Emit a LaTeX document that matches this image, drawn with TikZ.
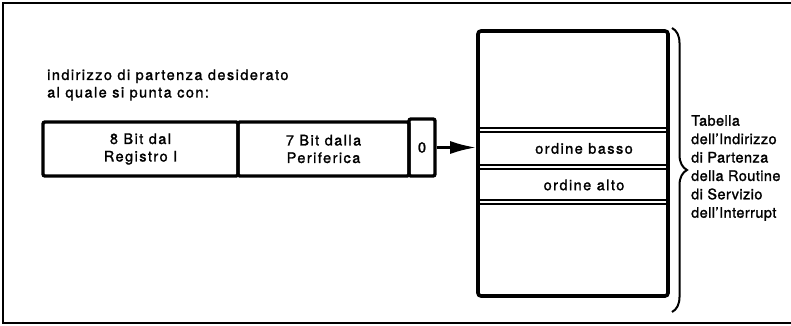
\documentclass[tikz,border=0pt]{standalone}
\usepackage{fontspec}
\setmainfont{TeX Gyre Heros}[LetterSpace=10,FakeBold=1.5]
\usetikzlibrary{arrows.meta,decorations.pathreplacing}
\begin{document}
\begin{tikzpicture}[x=1pt,y=-1pt,
  txt/.style={font=\fontsize{14.5}{17.5}\selectfont, inner sep=0pt},
  cell/.style={draw, line width=3.4pt, rounded corners=2pt, minimum height=54pt,
    inner sep=0pt, align=center, font=\fontsize{14.5}{17.5}\selectfont},
  divider/.style={line width=1.6pt},
  conn/.style={line width=2.8pt, -{Latex[length=26pt,width=13pt]}},
  bracestyle/.style={decorate, decoration={brace, amplitude=15pt}, line width=2pt}
]
\useasboundingbox (0,0) rectangle (791,326);
% outer frame
\draw[line width=2.6pt] (3,3) rectangle (805,323);
% description
\node[txt, anchor=west, align=left] (desc) at (47,85)
  {indirizzo di partenza desiderato\\al quale si punta con:};
% register cells
\node[cell, minimum width=195pt] (reg8) at (140.5,149) {8 Bit dal\\Registro I};
\node[cell, minimum width=171pt] (reg7) at (323.5,149) {7 Bit dalla\\Periferica};
\node[cell, minimum width=26pt, minimum height=57pt] (reg0) at (422,147.5) {0};
% table
\node[draw, line width=3.6pt, rounded corners=3pt, minimum width=190pt,
  minimum height=265pt, inner sep=0pt] (tab) at (573,163.5) {};
\foreach \yy in {128,132,165,169,200,204}
  \draw[divider] ([xshift=1pt]tab.west |- 0,\yy) -- ([xshift=-1pt]tab.east |- 0,\yy);
\node[txt] (basso) at (584,148.5) {ordine basso};
\node[txt] (alto) at (584,185) {ordine alto};
% arrow
\draw[conn] (reg0.east) -- (reg0.east -| tab.west);
% brace
\coordinate (brtop) at (672,28);
\coordinate (brbot) at (672,312);
\draw[bracestyle] (brtop) -- (brbot);
\node[txt, anchor=west, align=left,
  font=\fontsize{14.5}{18.4}\selectfont\addfontfeature{LetterSpace=3}] (lab) at (691,168)
  {Tabella\\dell'Indirizzo\\di Partenza\\della Routine\\di Servizio\\dell'Interrupt};
\end{tikzpicture}
\end{document}
